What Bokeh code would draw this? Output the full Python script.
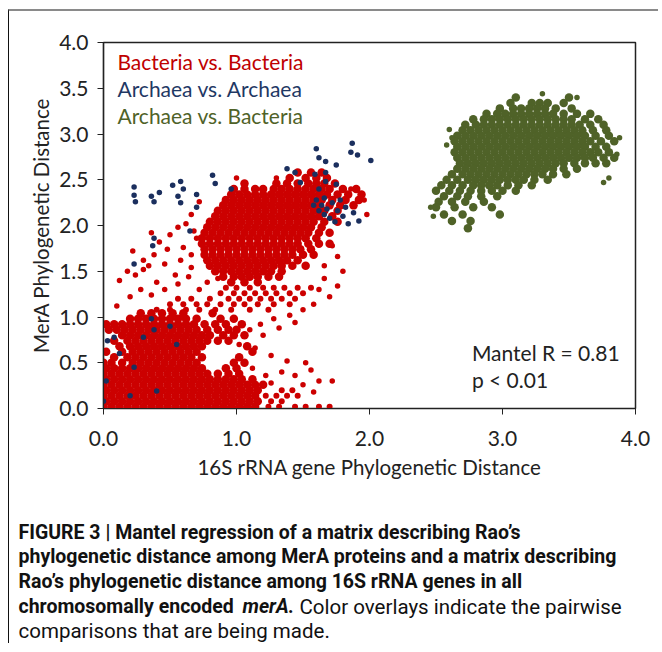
from bokeh.plotting import figure
from bokeh.models import Label, FixedTicker, NumeralTickFormatter, Range1d
from bokeh.embed import file_html
from bokeh.resources import INLINE

X_TICKS = [0, 1, 2, 3, 4]
Y_TICKS = [0, 0.5, 1.0, 1.5, 2.0, 2.5, 3.0, 3.5, 4.0]
SERIES = ["Bacteria vs. Bacteria", "Archaea vs. Archaea", "Archaea vs. Bacteria"]
X_LABEL = "16S rRNA gene Phylogenetic Distance"
Y_LABEL = "MerA Phylogenetic Distance"
STATS = ["Mantel R = 0.81", "p < 0.01"]

# Bacteria vs. Bacteria, dense parts: rows of (MerA distance, [16S distances])
BB_ROWS = [
    (2.58, [1.46, 1.56, 1.64]),
    (2.52, [1.40, 1.52, 1.60, 1.68]),
    (2.46, [1.06, 1.30, 1.38, 1.46, 1.54, 1.60, 1.66, 1.74]),
    (2.40, [0.98, 1.06, 1.14, 1.20, 1.28, 1.34, 1.40, 1.46, 1.52, 1.58, 1.64, 1.70, 1.80, 1.90]),
    (2.34, [0.96, 1.02, 1.08, 1.14, 1.20, 1.26, 1.32, 1.38, 1.44, 1.50, 1.56, 1.62, 1.68, 1.76, 1.84, 1.94]),
    (2.28, [0.92, 0.98, 1.04, 1.10, 1.16, 1.22, 1.28, 1.34, 1.40, 1.46, 1.52, 1.58, 1.64, 1.72, 1.82, 1.92]),
    (2.22, [0.90, 0.96, 1.02, 1.08, 1.14, 1.20, 1.26, 1.32, 1.38, 1.44, 1.50, 1.56, 1.62, 1.70, 1.78, 1.88]),
    (2.16, [0.86, 0.92, 0.98, 1.04, 1.10, 1.16, 1.22, 1.28, 1.34, 1.40, 1.46, 1.52, 1.58, 1.66, 1.76]),
    (2.10, [0.84, 0.90, 0.96, 1.02, 1.08, 1.14, 1.20, 1.26, 1.32, 1.38, 1.44, 1.50, 1.56, 1.62, 1.72]),
    (2.04, [0.80, 0.86, 0.92, 0.98, 1.04, 1.10, 1.16, 1.22, 1.28, 1.34, 1.40, 1.46, 1.52, 1.58, 1.66, 1.76]),
    (1.98, [0.78, 0.84, 0.90, 0.96, 1.02, 1.08, 1.14, 1.20, 1.26, 1.32, 1.38, 1.44, 1.50, 1.56, 1.64]),
    (1.92, [0.76, 0.82, 0.88, 0.94, 1.00, 1.06, 1.12, 1.18, 1.24, 1.30, 1.36, 1.42, 1.48, 1.54, 1.62, 1.70]),
    (1.86, [0.74, 0.80, 0.86, 0.92, 0.98, 1.04, 1.10, 1.16, 1.22, 1.28, 1.34, 1.40, 1.46, 1.52, 1.60]),
    (1.80, [0.74, 0.80, 0.86, 0.92, 0.98, 1.04, 1.10, 1.16, 1.22, 1.28, 1.34, 1.40, 1.46, 1.54, 1.62, 1.70]),
    (1.74, [0.76, 0.82, 0.88, 0.94, 1.00, 1.06, 1.12, 1.18, 1.24, 1.30, 1.36, 1.42, 1.48, 1.56]),
    (1.68, [0.76, 0.82, 0.88, 0.94, 1.00, 1.06, 1.12, 1.18, 1.24, 1.30, 1.36, 1.42, 1.50, 1.58]),
    (1.62, [0.78, 0.84, 0.90, 0.96, 1.02, 1.08, 1.14, 1.20, 1.26, 1.32, 1.38, 1.46]),
    (1.56, [0.80, 0.86, 0.92, 0.98, 1.04, 1.10, 1.16, 1.22, 1.28, 1.34, 1.42, 1.52]),
    (1.50, [0.84, 0.90, 0.96, 1.02, 1.08, 1.14, 1.20, 1.26, 1.34]),
    (1.44, [0.90, 0.98, 1.04, 1.10, 1.16, 1.24, 1.32]),
    (1.38, [0.96, 1.06, 1.16]),
    (1.04, [0.28, 0.36, 0.44, 0.52, 0.60, 0.82]),
    (0.98, [0.20, 0.26, 0.32, 0.38, 0.44, 0.50, 0.56, 0.62, 0.70, 0.88, 0.98]),
    (0.92, [0.02, 0.08, 0.14, 0.20, 0.26, 0.32, 0.38, 0.44, 0.50, 0.56, 0.62, 0.68, 0.76, 0.84, 0.92, 1.04]),
    (0.86, [0.04, 0.10, 0.16, 0.22, 0.28, 0.34, 0.40, 0.46, 0.52, 0.58, 0.64, 0.70, 0.78, 0.86, 0.94, 1.00]),
    (0.80, [0.14, 0.20, 0.26, 0.32, 0.38, 0.44, 0.50, 0.56, 0.62, 0.68, 0.74, 0.80, 0.90, 0.98, 1.06]),
    (0.74, [0.08, 0.18, 0.24, 0.30, 0.36, 0.42, 0.48, 0.54, 0.60, 0.66, 0.72, 0.78, 0.86, 0.94]),
    (0.68, [0.12, 0.20, 0.26, 0.32, 0.38, 0.44, 0.50, 0.56, 0.62, 0.68, 0.74, 1.08]),
    (0.62, [0.02, 0.14, 0.22, 0.28, 0.34, 0.40, 0.46, 0.52, 0.58, 0.64, 0.70, 1.12]),
    (0.56, [0.08, 0.18, 0.24, 0.30, 0.36, 0.42, 0.48, 0.54, 0.60, 0.66, 0.74, 1.02]),
    (0.50, [0.00, 0.06, 0.14, 0.22, 0.28, 0.34, 0.40, 0.46, 0.52, 0.58, 0.64, 0.70, 0.98, 1.06]),
    (0.44, [0.02, 0.08, 0.14, 0.20, 0.26, 0.32, 0.38, 0.44, 0.50, 0.56, 0.62, 0.68, 0.74, 0.92, 1.00]),
    (0.38, [0.00, 0.06, 0.12, 0.18, 0.24, 0.30, 0.36, 0.42, 0.48, 0.54, 0.60, 0.66, 0.72, 0.78, 0.86, 0.94, 1.02]),
    (0.32, [0.02, 0.08, 0.14, 0.20, 0.26, 0.32, 0.38, 0.44, 0.50, 0.56, 0.62, 0.68, 0.74, 0.80, 0.86, 0.92, 0.98, 1.04, 1.12]),
    (0.26, [0.00, 0.06, 0.12, 0.18, 0.24, 0.30, 0.36, 0.42, 0.48, 0.54, 0.60, 0.66, 0.72, 0.78, 0.84, 0.90, 0.96, 1.02, 1.08, 1.14, 1.20]),
    (0.20, [0.02, 0.08, 0.14, 0.20, 0.26, 0.32, 0.38, 0.44, 0.50, 0.56, 0.62, 0.68, 0.74, 0.80, 0.86, 0.92, 0.98, 1.04, 1.10, 1.16]),
    (0.14, [0.00, 0.06, 0.12, 0.18, 0.24, 0.30, 0.36, 0.42, 0.48, 0.54, 0.60, 0.66, 0.72, 0.78, 0.84, 0.90, 0.96, 1.02, 1.08, 1.14]),
    (0.08, [0.02, 0.08, 0.14, 0.20, 0.26, 0.32, 0.38, 0.44, 0.50, 0.56, 0.62, 0.68, 0.74, 0.80, 0.86, 0.92, 0.98, 1.04, 1.10, 1.16]),
    (0.02, [0.00, 0.06, 0.12, 0.18, 0.24, 0.30, 0.36, 0.42, 0.48, 0.54, 0.60, 0.66, 0.72, 0.78, 0.84, 0.90, 0.96, 1.02, 1.08, 1.14]),
]
# Bacteria vs. Bacteria, sparse band and outliers
BB_SPARSE_ROWS = [
    (1.32, [0.92, 1.00, 1.10, 1.20, 1.28, 1.36, 1.46, 1.56]),
    (1.26, [0.88, 0.98, 1.06, 1.14, 1.22, 1.30, 1.40, 1.50]),
    (1.20, [0.56, 0.66, 0.80, 0.94, 1.02, 1.10, 1.18, 1.26, 1.34, 1.44]),
    (1.14, [0.50, 0.60, 0.70, 0.78, 0.88, 0.98, 1.06, 1.16, 1.28, 1.40]),
    (1.08, [0.40, 0.50, 0.62, 0.72, 0.84, 0.96, 1.10, 1.24]),
    (0.20, [1.34, 1.42]),
    (0.14, [1.22, 1.30, 1.38, 1.46]),
    (0.08, [1.26, 1.34]),
    (0.02, [1.24, 1.32, 1.44, 1.52, 1.62, 1.70]),
]
BB_SCATTER = [
    (0.24, 1.46), (0.30, 1.52), (0.18, 1.50), (0.12, 1.40), (0.40, 1.38), (0.46, 1.30), (0.36, 1.24),
    (0.56, 1.36), (0.64, 1.44), (0.72, 1.30), (0.78, 1.38), (0.28, 1.30), (0.20, 1.22), (0.10, 1.12),
    (0.66, 1.54), (0.58, 1.62), (0.46, 1.58), (0.38, 1.68), (0.30, 1.62), (0.22, 1.72), (0.42, 1.82),
    (0.50, 1.90), (0.56, 1.98), (0.62, 2.02), (0.68, 1.94), (0.70, 1.86), (0.36, 1.92), (0.34, 1.56),
    (0.48, 1.74), (0.60, 1.76), (0.66, 1.68), (0.54, 1.46), (0.86, 1.42), (1.62, 1.30), (1.70, 1.22),
    (1.76, 1.34), (1.66, 1.42), (1.58, 1.14), (1.50, 1.08), (1.40, 1.02), (1.28, 0.98), (1.18, 0.92),
    (1.10, 0.86), (1.20, 0.80), (1.32, 0.88), (1.44, 0.94), (1.02, 0.70), (1.14, 0.66), (1.26, 0.58),
    (1.38, 0.52), (1.52, 0.50), (1.34, 0.40), (1.44, 0.36), (1.56, 0.42), (1.62, 0.30), (1.72, 0.30),
    (1.50, 0.26), (1.58, 0.18), (1.26, 0.28), (1.22, 0.36), (1.12, 0.44), (1.72, 1.78), (1.76, 1.66),
    (1.66, 1.56), (1.80, 1.50), (1.98, 2.12), (1.96, 2.28), (1.86, 2.40), (1.30, 2.52), (1.00, 2.52),
    (0.72, 2.26), (0.66, 2.12),
]

# Archaea vs. Archaea
AA_POINTS = [
    (0.23, 2.42), (0.23, 2.33), (0.24, 2.26), (0.36, 2.32), (0.38, 2.26), (0.42, 2.36), (0.52, 2.44),
    (0.58, 2.48), (0.60, 2.40), (0.56, 2.32), (0.58, 2.25), (0.70, 2.34), (0.70, 2.20), (0.82, 2.55),
    (0.84, 2.46), (0.96, 2.40), (1.38, 2.62), (1.44, 2.58), (1.48, 2.47), (1.59, 2.56), (1.60, 2.84),
    (1.62, 2.74), (1.67, 2.70), (1.67, 2.58), (1.62, 2.40), (1.67, 2.48), (1.75, 2.66), (1.75, 2.45),
    (1.87, 2.90), (1.86, 2.80), (1.91, 2.77), (2.01, 2.71), (1.58, 2.22), (1.60, 2.28), (1.64, 2.22),
    (1.68, 2.18), (1.72, 2.25), (1.66, 2.12), (1.70, 2.08), (1.76, 2.16), (1.62, 2.16), (1.74, 2.04),
    (1.80, 2.10), (1.84, 2.02), (1.92, 2.05), (1.78, 2.28), (1.66, 2.30), (1.82, 2.20), (1.88, 2.14),
    (0.38, 1.86), (0.65, 1.94), (0.37, 1.78), (0.23, 1.58), (0.08, 0.78), (0.30, 0.78), (0.38, 0.86),
    (0.55, 0.70), (0.23, 0.45), (0.40, 0.19), (0.00, 0.08), (0.03, 0.74), (0.36, 0.98), (0.12, 0.60),
    (0.50, 0.90), (0.20, 0.14), (0.02, 0.30),
]

# Archaea vs. Bacteria
AB_ROWS = [
    (3.40, [3.10, 3.50]),
    (3.34, [3.06, 3.22, 3.28, 3.34, 3.46]),
    (3.28, [2.98, 3.08, 3.14, 3.20, 3.26, 3.32, 3.40, 3.52]),
    (3.22, [2.88, 2.96, 3.02, 3.08, 3.14, 3.20, 3.26, 3.32, 3.38, 3.46, 3.56, 3.66]),
    (3.16, [2.78, 2.86, 2.92, 2.98, 3.04, 3.10, 3.16, 3.22, 3.28, 3.34, 3.40, 3.46, 3.52, 3.62, 3.72]),
    (3.10, [2.72, 2.80, 2.86, 2.92, 2.98, 3.04, 3.10, 3.16, 3.22, 3.28, 3.34, 3.40, 3.46, 3.52, 3.58, 3.66, 3.76]),
    (3.04, [2.70, 2.76, 2.82, 2.88, 2.94, 3.00, 3.06, 3.12, 3.18, 3.24, 3.30, 3.36, 3.42, 3.48, 3.54, 3.60, 3.68, 3.78]),
    (2.98, [2.66, 2.72, 2.78, 2.84, 2.90, 2.96, 3.02, 3.08, 3.14, 3.20, 3.26, 3.32, 3.38, 3.44, 3.50, 3.56, 3.62, 3.70, 3.80]),
    (2.92, [2.64, 2.70, 2.76, 2.82, 2.88, 2.94, 3.00, 3.06, 3.12, 3.18, 3.24, 3.30, 3.36, 3.42, 3.48, 3.54, 3.60, 3.66, 3.74, 3.84]),
    (2.86, [2.66, 2.72, 2.78, 2.84, 2.90, 2.96, 3.02, 3.08, 3.14, 3.20, 3.26, 3.32, 3.38, 3.44, 3.50, 3.56, 3.62, 3.70, 3.78]),
    (2.80, [2.64, 2.70, 2.76, 2.82, 2.88, 2.94, 3.00, 3.06, 3.12, 3.18, 3.24, 3.30, 3.36, 3.42, 3.48, 3.54, 3.60, 3.66, 3.72, 3.80]),
    (2.74, [2.66, 2.72, 2.78, 2.84, 2.90, 2.96, 3.02, 3.08, 3.14, 3.20, 3.26, 3.32, 3.38, 3.44, 3.50, 3.56, 3.62, 3.68, 3.76, 3.84]),
    (2.68, [2.68, 2.74, 2.80, 2.86, 2.92, 2.98, 3.04, 3.10, 3.16, 3.22, 3.28, 3.34, 3.40, 3.46, 3.54, 3.62, 3.70, 3.78]),
    (2.62, [2.66, 2.72, 2.78, 2.84, 2.90, 2.96, 3.02, 3.08, 3.14, 3.20, 3.26, 3.32, 3.38, 3.46, 3.56]),
    (2.56, [2.62, 2.70, 2.76, 2.82, 2.88, 2.94, 3.00, 3.06, 3.12, 3.18, 3.24, 3.30, 3.38, 3.48]),
    (2.50, [2.58, 2.66, 2.74, 2.80, 2.86, 2.92, 2.98, 3.04, 3.10, 3.16, 3.24, 3.34]),
    (2.44, [2.54, 2.62, 2.70, 2.78, 2.84, 2.90, 2.96, 3.04, 3.12, 3.22]),
    (2.38, [2.50, 2.60, 2.68, 2.76, 2.84, 2.92, 3.00, 3.10]),
    (2.32, [2.56, 2.66, 2.74, 2.84, 2.96]),
    (2.26, [2.52, 2.62, 2.72, 2.86]),
    (2.20, [2.50, 2.64, 2.78, 2.92]),
    (2.12, [2.56, 2.70, 2.98]),
    (2.05, [2.62, 2.76]),
    (1.97, [2.74]),
]
AB_SCATTER = [
    (2.46, 2.20), (2.48, 2.10), (3.88, 2.96), (3.86, 2.78), (3.80, 2.52), (3.76, 2.47), (2.60, 3.05),
    (2.58, 2.88), (2.62, 2.96), (3.56, 3.40), (3.30, 3.44),
]

CAPTION_LINES = [
    "FIGURE 3 | Mantel regression of a matrix describing Rao\u2019s",
    "phylogenetic distance among MerA proteins and a matrix describing",
    "Rao\u2019s phylogenetic distance among 16S rRNA genes in all",
    "chromosomally encoded",
    "merA.",
    "Color overlays indicate the pairwise",
    "comparisons that are being made.",
]

LEGEND_COLORS = ["#C00000", "#1F3864", "#4F6228"]
POINT_COLORS = ["#CC0000", "#1B2F5E", "#4F6228"]


def flatten(rows):
    xs, ys = [], []
    for yv, row in rows:
        for xv in row:
            xs.append(xv)
            ys.append(yv)
    return xs, ys


def unzip(points):
    return [pt[0] for pt in points], [pt[1] for pt in points]


bb_x, bb_y = flatten(BB_ROWS)
bbm_x, bbm_y = flatten(BB_SPARSE_ROWS)
bbs_x, bbs_y = unzip(BB_SCATTER)
aa_x, aa_y = unzip(AA_POINTS)
ab_x, ab_y = flatten(AB_ROWS)
abs_x, abs_y = unzip(AB_SCATTER)

FONT = "Lato"
CAP_FONT = "Roboto"
INK = "#222222"

p = figure(width=650, height=474, x_range=Range1d(0, 4), y_range=Range1d(0, 4),
           min_border_left=94, min_border_right=24, min_border_top=31, min_border_bottom=77,
           toolbar_location=None, output_backend="svg")
p.styles = {"margin-left": "8px", "margin-top": "9px",
            "border-top": "2px solid #8a8a8a", "border-left": "1px solid #111111"}
p.background_fill_color = "white"
p.border_fill_color = "white"
p.grid.visible = False
p.outline_line_color = INK
p.outline_line_width = 1.5

for ax in (p.xaxis[0], p.yaxis[0]):
    ax.formatter = NumeralTickFormatter(format="0.0")
    ax.major_tick_in = 0
    ax.major_tick_out = 6
    ax.minor_tick_in = 0
    ax.minor_tick_out = 0
    ax.axis_line_color = INK
    ax.axis_line_width = 1.2
    ax.major_tick_line_color = INK
    ax.major_label_text_font = FONT
    ax.major_label_text_font_size = "21px"
    ax.major_label_text_color = INK
    ax.axis_label_text_font = FONT
    ax.axis_label_text_font_style = "normal"
    ax.axis_label_text_font_size = "20.5px"
    ax.axis_label_text_color = INK

p.xaxis.ticker = FixedTicker(ticks=X_TICKS)
p.yaxis.ticker = FixedTicker(ticks=Y_TICKS)
p.xaxis.axis_label = X_LABEL
p.yaxis.axis_label = Y_LABEL
p.xaxis.major_label_standoff = 16
p.yaxis.major_label_standoff = 9
p.xaxis.axis_label_standoff = 6
p.yaxis.axis_label_standoff = 3

p.scatter(bb_x, bb_y, size=8.5, marker="circle", fill_color=POINT_COLORS[0], line_color=None)
p.scatter(bbm_x, bbm_y, size=6, marker="circle", fill_color=POINT_COLORS[0], line_color=None)
p.scatter(bbs_x, bbs_y, size=5.5, marker="circle", fill_color=POINT_COLORS[0], line_color=None)
p.scatter(aa_x, aa_y, size=5.5, marker="circle", fill_color=POINT_COLORS[1], line_color=None)
p.scatter(ab_x, ab_y, size=8.5, marker="circle", fill_color=POINT_COLORS[2], line_color=None)
p.scatter(abs_x, abs_y, size=5.5, marker="circle", fill_color=POINT_COLORS[2], line_color=None)

for name, col, yy in zip(SERIES, LEGEND_COLORS, [3.79, 3.495, 3.20]):
    p.add_layout(Label(x=0.105, y=yy, text=name, text_color=col, text_font=FONT,
                       text_font_size="21px", text_baseline="middle"))
for txt, yy in zip(STATS, [0.61, 0.315]):
    p.add_layout(Label(x=2.77, y=yy, text=txt, text_color=INK, text_font=FONT,
                       text_font_size="21px", text_baseline="middle"))

# caption panel (separate root): pixel-like coordinates, y measured downwards
cap = figure(width=650, height=160, x_range=Range1d(0, 650), y_range=Range1d(160, 0),
             min_border=0, toolbar_location=None, output_backend="svg",
             x_axis_location=None, y_axis_location=None)
cap.styles = {"margin-left": "8px", "border-left": "1px solid #111111"}
cap.grid.visible = False
cap.outline_line_color = None
cap.background_fill_color = "white"
cap.border_fill_color = "white"

CAP_POS = [(9, 49, "bold", "19.5px"), (9, 73, "bold", "19.5px"), (9, 98, "bold", "19.5px"),
           (9, 123, "bold", "19.5px"), (233, 123, "bold italic", "19.5px"),
           (290, 123, "normal", "20.5px"), (9, 147, "normal", "20.5px")]
for txt, (xx, yy, style, fs) in zip(CAPTION_LINES, CAP_POS):
    cap.add_layout(Label(x=xx, y=yy, text=txt, text_font=CAP_FONT, text_font_style=style,
                         text_font_size=fs, text_color="#111111", text_baseline="middle"))

open("out.html", "w").write(file_html([p, cap], INLINE))
